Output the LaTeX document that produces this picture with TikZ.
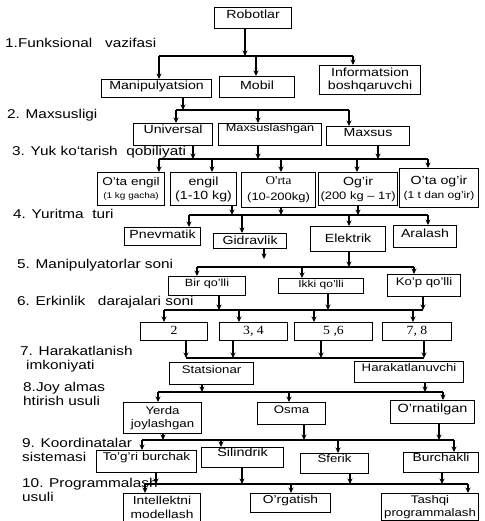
\documentclass[tikz,border=0pt]{standalone}
\usepackage{fontspec}
\setmainfont{Liberation Sans}[FakeStretch=1.2]
\newfontfamily\serf{Liberation Serif}[FakeStretch=1.1]
\usetikzlibrary{arrows.meta}
\newcommand\fsz[2][14]{\fontsize{#2}{#1}\selectfont}
\newcommand\fsl[2]{\fontsize{#2}{#1}\selectfont}
\tikzset{
  box/.style={draw, line width=1.1pt, inner sep=0pt, anchor=north west, font={\fsz{11.8}}},
  tx/.style 2 args={text height=#1pt, text depth=#2pt},
  arr/.style={-{Stealth[length=5.5pt,width=5pt]}, line width=1.1pt},
  bus/.style={line width=1.1pt},
  lab/.style={anchor=west, inner sep=0pt, align=left, font={\fsl{14.5}{12.8}}}
}
\begin{document}
\begin{tikzpicture}[x=1pt,y=-1pt]
\useasboundingbox (0,0) rectangle (484,521);
% ---------- boxes ----------
\node[box, minimum width=77pt, tx={11}{10}] (robot) at (214,7) {Robotlar};
% row 1
\node[box, minimum width=110pt, tx={10}{8}] (man) at (101,79) {Manipulyatsion};
\node[box, minimum width=75pt, tx={13}{8}] (mob) at (219,76) {Mobil};
\node[box, minimum width=101pt, minimum height=29pt, align=center, font={\fsl{13}{11.8}}] (inf) at (319,65) {Informatsion\\boshqaruvchi};
% row 2
\node[box, minimum width=79pt, tx={10}{12}] (uni) at (133,123) {Universal};
\node[box, minimum width=103pt, tx={8}{14}, font={\fsz{10.6}}] (mxl) at (218,123) {Maxsuslashgan};
\node[box, minimum width=83pt, tx={10}{9}] (mxs) at (326,126) {Maxsus};
% row 3
\node[box, minimum width=67pt, minimum height=33pt, align=center, font={\fsl{13}{11.3}}] (r3a) at (97,172) {O'ta engil\\{\fsz{8.3}(1 kg gacha)}};
\node[box, minimum width=66pt, minimum height=33pt, align=center, font={\fsl{14}{11.8}}] (r3b) at (170,172) {engil\\(1-10 kg)};
\node[box, minimum width=74pt, minimum height=35pt, align=center, font={\fsl{16}{10.8}}] (r3c) at (241,172) {{\serf\fsz{12}O'rta}\\(10-200kg)};
\node[box, minimum width=79pt, minimum height=33pt, align=center, font={\fsl{14}{10.8}}] (r3d) at (318,172) {{\fsz{11.8}Og'ir}\\(200 kg – 1т)};
\node[box, minimum width=79pt, minimum height=39pt, align=center, font={\fsl{14}{10}}] (r3e) at (399,168) {{\fsz{11.8}O'ta og'ir}\\(1 t dan og'ir)};
% row 4
\node[box, minimum width=76pt, tx={11}{7}] (pn) at (124,227) {Pnevmatik};
\node[box, minimum width=73pt, tx={11}{4}] (gi) at (213,233) {Gidravlik};
\node[box, minimum width=75pt, tx={16}{9}] (el) at (310,226) {Elektrik};
\node[box, minimum width=63pt, tx={12}{10}] (ar) at (393,225) {Aralash};
% row 5
\node[box, minimum width=77pt, tx={10}{9}, font={\fsz{10.5}}] (bq) at (168,276) {Bir qo'lli};
\node[box, minimum width=85pt, tx={9}{6}, font={\fsz{10}}] (iq) at (278,278) {Ikki qo'lli};
\node[box, minimum width=73pt, tx={11}{11}, font={\fsz{11}}] (kq) at (387,274) {Ko'p qo'lli};
% row 6
\node[box, minimum width=67pt, tx={12}{6}, font={\serf\fsz{12.5}}] (d2) at (140,322) {2};
\node[box, minimum width=68pt, tx={12}{6}, font={\serf\fsz{12.5}}] (d34) at (219,322) {3, 4};
\node[box, minimum width=78pt, tx={12}{6}, font={\serf\fsz{12.5}}] (d56) at (294,322) {5 ,6};
\node[box, minimum width=69pt, tx={12}{6}, font={\serf\fsz{12.5}}] (d78) at (382,322) {7, 8};
% row 7
\node[box, minimum width=84pt, tx={11}{11}, font={\fsz{11}}] (st) at (169,362) {Statsionar};
\node[box, minimum width=109pt, tx={10}{11}, font={\fsz{11}}] (hk) at (354,361) {Harakatlanuvchi};
% row 8
\node[box, minimum width=78pt, minimum height=31pt, align=center, font={\fsl{13}{11}}] (yj) at (123,402) {Yerda\\joylashgan};
\node[box, minimum width=68pt, tx={11}{11}, font={\fsz{11}}] (os) at (257,402) {Osma};
\node[box, minimum width=84pt, tx={12}{11}, font={\fsz{12}}] (orn) at (390,400) {O'rnatilgan};
% row 9
\node[box, minimum width=100pt, tx={9.5}{12.5}, font={\fsz{11.3}}] (tgb) at (96,450) {To'g'ri burchak};
\node[box, minimum width=82pt, tx={9}{11}, font={\fsz{12}}] (si) at (201,447) {Silindrik};
\node[box, minimum width=68pt, tx={9}{11}, font={\fsz{11}}] (sf) at (300,453) {Sferik};
\node[box, minimum width=75pt, tx={9}{11}, font={\fsz{11.5}}] (bu) at (403,452) {Burchakli};
% row 10
\node[box, minimum width=77pt, minimum height=28pt, align=center, font={\fsl{14}{11.5}}] (im) at (123,493) {Intellektni\\modellash};
\node[box, minimum width=80pt, tx={10}{9}, font={\fsz{11.5}}] (og) at (250,493) {O'rgatish};
\node[box, minimum width=97pt, minimum height=27pt, align=center, font={\fsl{13}{11}}] (tp) at (381,493) {Tashqi\\programmalash};
% ---------- labels ----------
\node[lab] (l1) at (5,43) {1.Funksional\ \ \ vazifasi};
\node[lab] (l2) at (7,115) {2. Maxsusligi};
\node[lab] (l3) at (12,152) {3. Yuk ko`tarish\ \ qobiliyati};
\node[lab] (l4) at (13,214) {4. Yuritma\ \ turi};
\node[lab] (l5) at (17,265) {5. Manipulyatorlar soni};
\node[lab] (l6) at (17,302) {6. Erkinlik\ \ \ darajalari soni};
\node[lab] (l7) at (20,359) {7. Harakatlanish\\\hspace{6pt}imkoniyati};
\node[lab] (l8) at (23,394) {8.Joy almas\\htirish usuli};
\node[lab] (l9) at (22,450) {9. Koordinatalar\\sistemasi};
\node[lab] (l10) at (22,490) {10. Programmalash\\usuli};
% ---------- connectors ----------
% group 1
\foreach \x/\n in {245/robot} {\coordinate (q1-\n) at (\x,56); \draw[arr] (q1-\n |- \n.south) -- (q1-\n);}
\foreach \x/\n in {159/man,256/mob,353/inf} {\coordinate (k1-\n) at (\x,56); \draw[arr] (k1-\n) -- (k1-\n |- \n.north);}
\draw[bus] (k1-man) -- (k1-inf);
% group 2
\foreach \x/\n in {183/man} {\coordinate (q2-\n) at (\x,110); \draw[arr] (q2-\n |- \n.south) -- (q2-\n);}
\foreach \x/\n in {176/uni,258/mxl,349/mxs} {\coordinate (k2-\n) at (\x,110); \draw[arr] (k2-\n) -- (k2-\n |- \n.north);}
\draw[bus] (k2-uni) -- (k2-mxs);
% group 3
\foreach \x/\n in {193/uni,258/mxl,378/mxs} {\coordinate (q3-\n) at (\x,159); \draw[arr] (q3-\n |- \n.south) -- (q3-\n);}
\foreach \x/\n in {159/r3a,212/r3b,281/r3c,357/r3d,428/r3e} {\coordinate (k3-\n) at (\x,159); \draw[arr] (k3-\n) -- (k3-\n |- \n.north);}
\draw[bus] (k3-r3a) -- (k3-r3e);
% group 4
\foreach \x/\n in {232/r3b,281/r3c,358/r3d} {\coordinate (q4-\n) at (\x,215); \draw[arr] (q4-\n |- \n.south) -- (q4-\n);}
\foreach \x/\n in {189/pn,242/gi,349/el,428/ar} {\coordinate (k4-\n) at (\x,215); \draw[arr] (k4-\n) -- (k4-\n |- \n.north);}
\draw[bus] (k4-pn) -- (k4-ar);
% group 5
\coordinate (q5-gi) at (264,259); \draw[arr] (q5-gi |- gi.south) -- (q5-gi);
\coordinate (q5-el) at (349,267); \draw[arr] (q5-el |- el.south) -- (q5-el);
\foreach \x/\n in {197/bq,302/iq,414/kq} {\coordinate (k5-\n) at (\x,267); \draw[arr] (k5-\n) -- (k5-\n |- \n.north);}
\draw[bus] (k5-bq) -- (k5-kq);
% group 6
\foreach \x/\n in {219/bq,328/iq,423/kq} {\coordinate (q6-\n) at (\x,310); \draw[arr] (q6-\n |- \n.south) -- (q6-\n);}
\foreach \x/\n in {164/d2,239/d34,314/d56,413/d78} {\coordinate (k6-\n) at (\x,310); \draw[arr] (k6-\n) -- (k6-\n |- \n.north);}
\draw[bus] (k6-d2) -- (q6-kq);
% group 7
\foreach \x/\n in {186/d2,233/d34,321/d56,424/d78} {\coordinate (q7-\n) at (\x,358); \draw[arr] (q7-\n |- \n.south) -- (q7-\n);}
\draw[bus] (q7-d2) -- (q7-d78);
% group 8
\foreach \x/\n in {202/st,425/hk} {\coordinate (q8-\n) at (\x,392); \draw[arr] (q8-\n |- \n.south) -- (q8-\n);}
\foreach \x/\n in {158/yj,289/os,443/orn} {\coordinate (k8-\n) at (\x,392); \draw[arr] (k8-\n) -- (k8-\n |- \n.north);}
\draw[bus] (k8-yj) -- (k8-orn);
% group 9
\foreach \x/\n in {163/yj,304/os,439/orn} {\coordinate (q9-\n) at (\x,440); \draw[arr] (q9-\n |- \n.south) -- (q9-\n);}
\foreach \x/\n in {142/tgb,221/si,338/sf,454/bu} {\coordinate (k9-\n) at (\x,440); \draw[arr] (k9-\n) -- (k9-\n |- \n.north);}
\draw[bus] (k9-tgb) -- (k9-bu);
% group 10
\foreach \x/\n in {156/tgb,242/si,350/sf,442/bu} {\coordinate (q10-\n) at (\x,484); \draw[arr] (q10-\n |- \n.south) -- (q10-\n);}
\foreach \x/\n in {145/im,291/og,468/tp} {\coordinate (k10-\n) at (\x,484); \draw[arr] (k10-\n) -- (k10-\n |- \n.north);}
\draw[bus] (k10-im) -- (k10-tp);
\end{tikzpicture}
\end{document}
